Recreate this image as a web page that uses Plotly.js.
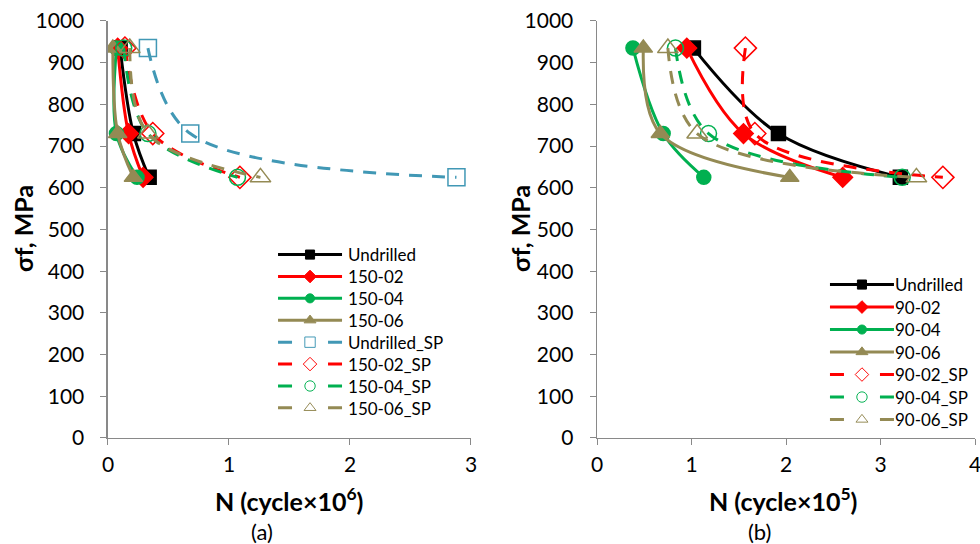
<!DOCTYPE html>
<html><head><meta charset="utf-8">
<script src="https://cdn.plot.ly/plotly-3.0.1.min.js"></script>
<style>body{margin:0;background:#fff}#c{width:980px;height:544px}</style>
</head><body><div id="c"></div>
<script>
// stress levels (MPa)
const stress = [935, 730, 625];

// (a) cycles ×10^6
const a_names = ['Undrilled','150-02','150-04','150-06','Undrilled_SP','150-02_SP','150-04_SP','150-06_SP'];
const a_undrilled   = [0.10, 0.21, 0.34];
const a_15002       = [0.08, 0.17, 0.29];
const a_15004       = [0.07, 0.07, 0.24];
const a_15006       = [0.04, 0.08, 0.21];
const a_undrilledSP = [0.33, 0.68, 2.88];
const a_15002SP     = [0.14, 0.37, 1.09];
const a_15004SP     = [0.13, 0.33, 1.07];
const a_15006SP     = [0.18, 0.33, 1.26];

// (b) cycles ×10^5
const b_names = ['Undrilled','90-02','90-04','90-06','90-02_SP','90-04_SP','90-06_SP'];
const b_undrilled = [1.02, 1.92, 3.21];
const b_9002      = [0.95, 1.55, 2.60];
const b_9004      = [0.38, 0.70, 1.13];
const b_9006      = [0.49, 0.67, 2.04];
const b_9002SP    = [1.57, 1.67, 3.66];
const b_9004SP    = [0.83, 1.18, 3.23];
const b_9006SP    = [0.75, 1.06, 3.38];

const C = {black:'#000000', red:'#FF0000', green:'#00B050', olive:'#948A54', teal:'#4198B5'};
const DASH = '13px,10px';

function tr(name, x, color, sym, size, dash, xa, leg){
  return {type:'scatter', mode:'lines+markers', name:name, x:x, y:stress,
    xaxis:xa, yaxis: xa==='x'?'y':'y2', legend:leg,
    line:{color:color, width:3, shape:'spline', smoothing:1, dash:dash},
    marker:{symbol:sym, size:size, color:color, line:{color:color, width:1.5}}};
}
const data = [
  tr(a_names[0], a_undrilled, C.black, 'square', 14, 'solid', 'x', 'legend'),
  tr(a_names[1], a_15002, C.red, 'diamond', 15, 'solid', 'x', 'legend'),
  tr(a_names[2], a_15004, C.green, 'circle', 14, 'solid', 'x', 'legend'),
  tr(a_names[3], a_15006, C.olive, 'triangle-up', 16, 'solid', 'x', 'legend'),
  tr(a_names[4], a_undrilledSP, C.teal, 'square-open', 17, DASH, 'x', 'legend'),
  tr(a_names[5], a_15002SP, C.red, 'diamond-open', 17, DASH, 'x', 'legend'),
  tr(a_names[6], a_15004SP, C.green, 'circle-open', 16, DASH, 'x', 'legend'),
  tr(a_names[7], a_15006SP, C.olive, 'triangle-up-open', 18, DASH, 'x', 'legend'),
  tr(b_names[0], b_undrilled, C.black, 'square', 14, 'solid', 'x2', 'legend2'),
  tr(b_names[1], b_9002, C.red, 'diamond', 15, 'solid', 'x2', 'legend2'),
  tr(b_names[2], b_9004, C.green, 'circle', 14, 'solid', 'x2', 'legend2'),
  tr(b_names[3], b_9006, C.olive, 'triangle-up', 16, 'solid', 'x2', 'legend2'),
  tr(b_names[4], b_9002SP, C.red, 'diamond-open', 17, DASH, 'x2', 'legend2'),
  tr(b_names[5], b_9004SP, C.green, 'circle-open', 16, DASH, 'x2', 'legend2'),
  tr(b_names[6], b_9006SP, C.olive, 'triangle-up-open', 18, DASH, 'x2', 'legend2')
];

const F = 'Lato, "Open Sans", sans-serif';
const xBase = {showgrid:false, zeroline:false, showline:true, linecolor:'#898989', linewidth:1.5,
  ticks:'outside', ticklen:6, tickcolor:'#898989', tickfont:{family:F, size:21, color:'#000'},
  ticklabelstandoff:1, ticklabeloverflow:'allow'};
const yBase = Object.assign({}, xBase, {ticklabelstandoff:12});
const yd = [0.1949, 0.9614];
function ann(x, y, text, size, angle){
  return {xref:'paper', yref:'paper', x:x/980, y:(544-y)/544, xanchor:'center', yanchor:'middle',
    text:text, textangle:angle||0, showarrow:false, font:{family:F, size:size, color:'#000'}};
}
const layout = {
  width:980, height:544, margin:{l:0,r:0,t:0,b:0}, paper_bgcolor:'#fff', plot_bgcolor:'#fff',
  font:{family:F, color:'#000'},
  xaxis:Object.assign({}, xBase, {domain:[0.1102,0.4806], range:[0,3], dtick:1, anchor:'y'}),
  yaxis:Object.assign({}, yBase, {domain:yd, range:[0,1000], dtick:100, anchor:'x'}),
  xaxis2:Object.assign({}, xBase, {domain:[0.6092,0.9949], range:[0,4], dtick:1, anchor:'y2'}),
  yaxis2:Object.assign({}, yBase, {domain:yd, range:[0,1000], dtick:100, anchor:'x2'}),
  legend:{x:0.2786, y:0.5643, xanchor:'left', yanchor:'top', bgcolor:'rgba(0,0,0,0)', font:{family:F, size:17}, itemwidth:60, tracegroupgap:0},
  legend2:{x:0.8418, y:0.5092, xanchor:'left', yanchor:'top', bgcolor:'rgba(0,0,0,0)', font:{family:F, size:17}, itemwidth:60, tracegroupgap:0},
  annotations:[
    ann(23, 229, '<b>σf, MPa</b>', 25, -90),
    ann(520, 229, '<b>σf, MPa</b>', 25, -90),
    ann(289, 499, '<b>N (cycle×10<sup>6</sup>)</b>', 25),
    ann(783, 499, '<b>N (cycle×10<sup>5</sup>)</b>', 25),
    ann(262, 531, '(a)', 22),
    ann(759, 531, '(b)', 22)
  ]
};
Plotly.newPlot('c', data, layout, {staticPlot:true}).then(function(gd){
  [['.legend', 21.9], ['.legend2', 22.5]].forEach(function(cfg){
    const lg = gd.querySelector('.infolayer > g' + cfg[0]) || gd.querySelector('g' + cfg[0]);
    if (!lg) return;
    const items = lg.querySelectorAll('g.traces');
    let y0 = null;
    items.forEach(function(t, i){
      const m = /translate\(([-\d.]+),\s*([-\d.]+)\)/.exec(t.getAttribute('transform') || '');
      if (m) {
        if (y0 === null) y0 = parseFloat(m[2]);
        t.setAttribute('transform', 'translate(' + m[1] + ',' + (y0 + i * cfg[1]) + ')');
      }
      t.querySelectorAll('.legendlines path').forEach(function(p){
        p.setAttribute('d','M5,0h64');
        const da = p.style.strokeDasharray;
        if (da && da !== 'none') p.style.strokeDasharray = '14px,36px';
      });
      t.querySelectorAll('.legendsymbols path.scatterpts').forEach(function(p){ p.setAttribute('transform','translate(37,0) scale(0.65)'); });
      t.querySelectorAll('text.legendtext').forEach(function(p){ p.setAttribute('x', 75); });
    });
  });
});
</script></body></html>
